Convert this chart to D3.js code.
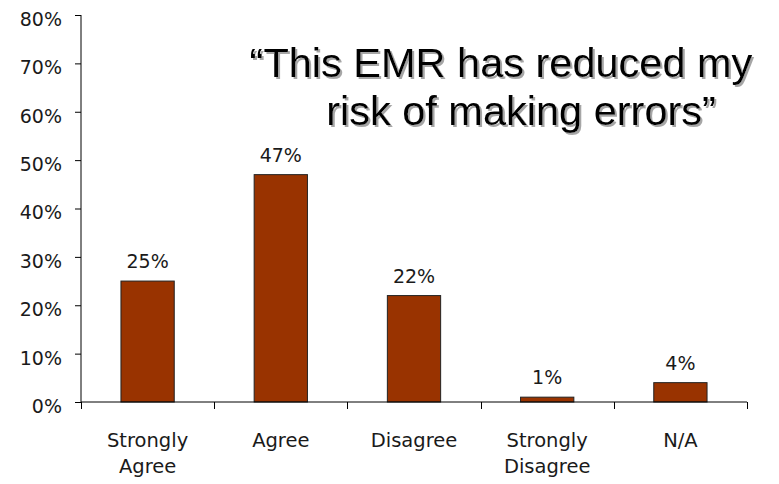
<!DOCTYPE html>
<html>
<head>
<meta charset="utf-8">
<script src="https://cdn.jsdelivr.net/npm/d3@7"></script>
<style>
  body { margin: 0; background: #fff; }
  text { fill: #1a1a1a; }
</style>
</head>
<body>
<svg id="chart" width="779" height="484"></svg>
<script>
const categories = ["Strongly Agree", "Agree", "Disagree", "Strongly Disagree", "N/A"];
const labelLines = [["Strongly", "Agree"], ["Agree"], ["Disagree"], ["Strongly", "Disagree"], ["N/A"]];
const values = [25, 47, 22, 1, 4];
const yTicks = [0, 10, 20, 30, 40, 50, 60, 70, 80];
const titleLines = ["\u201cThis EMR has reduced my", "risk of making errors\u201d"];

const labelFont = "DejaVu Sans, sans-serif";

const svg = d3.select("#chart");
const margin = { top: 15, right: 32, bottom: 82, left: 81 };
const width = 779 - margin.left - margin.right;
const height = 484 - margin.top - margin.bottom;

// gray drop shadow for the title
const shadow = svg.append("defs").append("filter")
  .attr("id", "shadow")
  .attr("x", "-5%").attr("y", "-20%")
  .attr("width", "115%").attr("height", "150%");
shadow.append("feOffset").attr("in", "SourceAlpha").attr("dx", 2).attr("dy", 2).attr("result", "off");
shadow.append("feFlood").attr("flood-color", "#a6a6a6").attr("result", "col");
shadow.append("feComposite").attr("in", "col").attr("in2", "off").attr("operator", "in").attr("result", "sh");
const merge = shadow.append("feMerge");
merge.append("feMergeNode").attr("in", "sh");
merge.append("feMergeNode").attr("in", "SourceGraphic");

const g = svg.append("g").attr("transform", `translate(${margin.left},${margin.top})`);

const x = d3.scaleBand().domain(categories).range([0, width]).paddingInner(0.6).paddingOuter(0.3);
const y = d3.scaleLinear().domain([0, 80]).range([height, 0]);
// category boundaries for the x tick marks
const xb = d3.scaleLinear().domain([0, categories.length]).range([0, width]);

// bars
g.selectAll("rect.bar")
  .data(values)
  .enter()
  .append("rect")
  .attr("class", "bar")
  .attr("x", (d, i) => x(categories[i]))
  .attr("y", (d) => y(d))
  .attr("width", x.bandwidth())
  .attr("height", (d) => height - y(d))
  .attr("fill", "#993300")
  .attr("stroke", "#222")
  .attr("stroke-width", 1);

// value labels
g.selectAll("text.val")
  .data(values)
  .enter()
  .append("text")
  .attr("class", "val")
  .attr("x", (d, i) => x(categories[i]) + x.bandwidth() / 2)
  .attr("y", (d) => y(d) - 13)
  .attr("text-anchor", "middle")
  .style("font-family", labelFont)
  .style("font-size", "19px")
  .text((d) => d + "%");

// y axis
const yAxis = g.append("g")
  .call(d3.axisLeft(y).tickValues(yTicks).tickSize(6).tickPadding(13).tickFormat((d) => d + "%"));
yAxis.select(".domain").attr("stroke", "#000").attr("d", `M0,${height}V0`);
yAxis.selectAll(".tick line").attr("stroke", "#000");
yAxis.selectAll(".tick text")
  .style("font-family", labelFont)
  .style("font-size", "19px")
  .style("fill", "#1a1a1a")
  .attr("dy", "0.55em");

// x axis line and boundary ticks
g.append("line")
  .attr("x1", 0).attr("x2", width)
  .attr("y1", height).attr("y2", height)
  .attr("stroke", "#000");
g.selectAll("line.xtick")
  .data(d3.range(categories.length + 1))
  .enter()
  .append("line")
  .attr("class", "xtick")
  .attr("x1", (d) => Math.round(xb(d)) + 0.5)
  .attr("x2", (d) => Math.round(xb(d)) + 0.5)
  .attr("y1", height)
  .attr("y2", height + 7)
  .attr("stroke", "#000");

// category labels
const catLabels = g.selectAll("text.cat")
  .data(labelLines)
  .enter()
  .append("text")
  .attr("class", "cat")
  .attr("text-anchor", "middle")
  .style("font-family", labelFont)
  .style("font-size", "19.5px")
  .attr("x", (d, i) => x(categories[i]) + x.bandwidth() / 2)
  .attr("y", height + 45);
catLabels.selectAll("tspan")
  .data((d) => d)
  .enter()
  .append("tspan")
  .attr("x", function () { return d3.select(this.parentNode).attr("x"); })
  .attr("dy", (d, i) => (i === 0 ? 0 : 26))
  .text((d) => d);

// title
const titleX = [501, 521];
const titleY = [77, 125];
svg.append("g")
  .attr("filter", "url(#shadow)")
  .selectAll("text")
  .data(titleLines)
  .enter()
  .append("text")
  .attr("x", (d, i) => titleX[i])
  .attr("y", (d, i) => titleY[i])
  .attr("text-anchor", "middle")
  .style("font-family", "'Liberation Sans', Arial, sans-serif")
  .style("font-size", "41.5px")
  .style("fill", "#000")
  .text((d) => d);
</script>
</body>
</html>
